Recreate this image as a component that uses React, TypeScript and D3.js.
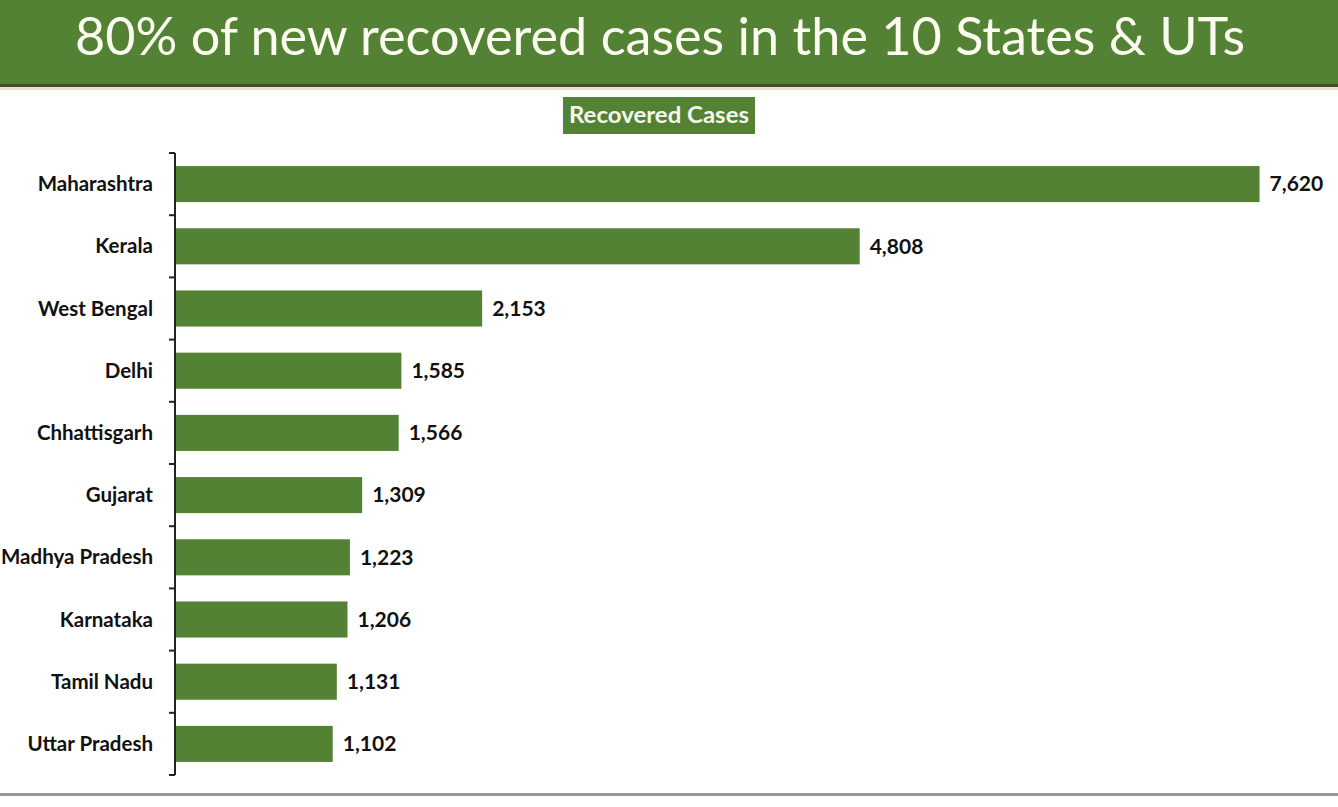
import React from "react";
import * as d3 from "d3";

const states = [
  "Maharashtra",
  "Kerala",
  "West Bengal",
  "Delhi",
  "Chhattisgarh",
  "Gujarat",
  "Madhya Pradesh",
  "Karnataka",
  "Tamil Nadu",
  "Uttar Pradesh",
];
const recovered = [7620, 4808, 2153, 1585, 1566, 1309, 1223, 1206, 1131, 1102];
const title = "80% of new recovered cases in the 10 States & UTs";
const seriesName = "Recovered Cases";

const W = 1338;
const H = 807;
const GREEN = "#548235";

export default function App() {
  const x = d3.scaleLinear().domain([0, 8000]).range([176, 176 + 8000 * 0.1422]);
  const y = d3.scaleBand<string>().domain(states).range([153, 775]).paddingInner(0.42).paddingOuter(0.21);
  const fmt = d3.format(",");
  const step = y.step();
  const ticks = d3.range(states.length + 1).map((i) => 153 + i * step);

  return (
    <svg width={W} height={H} style={{ position: "absolute", left: 0, top: 0, background: "#fff" }}>
      <rect x={0} y={0} width={W} height={H} fill="#fff" />
      {/* header */}
      <rect x={0} y={0} width={W} height={85} fill={GREEN} />
      <rect x={0} y={84} width={W} height={3} fill="#4a4a2a" />
      <rect x={0} y={87} width={W} height={3} fill="#e9e2d2" />
      <text
        x={660}
        y={55}
        textAnchor="middle"
        fill="#fbfbf0"
        fontFamily="Lato, 'Open Sans', sans-serif"
        fontSize={53}
        textLength={1170}
        lengthAdjust="spacingAndGlyphs"
      >
        {title}
      </text>
      {/* legend */}
      <rect x={563} y={97} width={192} height={37} fill={GREEN} />
      <text
        x={659}
        y={123}
        textAnchor="middle"
        fill="#f4f8ec"
        fontFamily="Lato, 'Open Sans', sans-serif"
        fontWeight={700}
        fontSize={22}
        textLength={180}
        lengthAdjust="spacingAndGlyphs"
      >
        {seriesName}
      </text>
      {/* bars */}
      {states.map((s, i) => (
        <g key={s}>
          <rect
            x={x(0)}
            y={y(s)}
            width={x(recovered[i]) - x(0)}
            height={y.bandwidth()}
            fill={GREEN}
          />
          <text
            x={x(recovered[i]) + 10}
            y={(y(s) as number) + y.bandwidth() / 2}
            dy="0.35em"
            fill="#111"
            fontFamily="Lato, 'Open Sans', sans-serif"
            fontWeight={700}
            fontSize={21}
          >
            {fmt(recovered[i])}
          </text>
          <text
            x={153}
            y={(y(s) as number) + y.bandwidth() / 2}
            dy="0.35em"
            textAnchor="end"
            fill="#111"
            fontFamily="Lato, 'Open Sans', sans-serif"
            fontWeight={700}
            fontSize={20.5}
          >
            {s}
          </text>
        </g>
      ))}
      {/* axis */}
      <line x1={175} x2={175} y1={153} y2={775} stroke="#222" strokeWidth={2} />
      {ticks.map((t, i) => (
        <line key={i} x1={169} x2={175} y1={t} y2={t} stroke="#222" strokeWidth={2} />
      ))}
      {/* bottom rule */}
      <rect x={0} y={793} width={W} height={3} fill="#999" />
    </svg>
  );
}
